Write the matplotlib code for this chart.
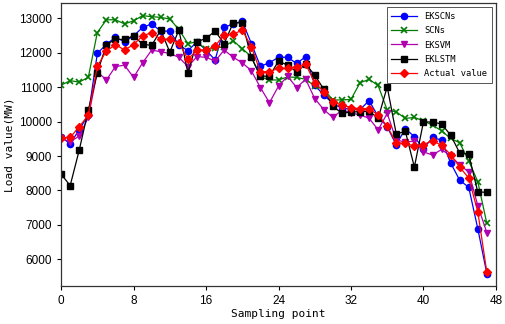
import matplotlib
matplotlib.use("Agg")
import matplotlib.pyplot as plt
import numpy as np

# sampling points 0..47
x = np.arange(48)

ekscns = [9560, 9350, 9770, 10190, 11980, 12250, 12450, 12320, 12490, 12740,
          12840, 12630, 12630, 12230, 12060, 12320, 12080, 11790, 12740, 12840,
          12920, 12270, 11610, 11710, 11870, 11870, 11690, 11890, 11060, 10770,
          10530, 10380, 10380, 10350, 10610, 10150, 9850, 9320, 9800, 9560,
          9210, 9540, 9460, 8800, 8300, 8090, 6890, 5580]
scns = [11060, 11190, 11150, 11285, 12590, 12960, 12960, 12840, 12930, 13080,
        13050, 13030, 12980, 12680, 12270, 12320, 12100, 12130, 12180, 12350,
        12120, 11890, 11300, 11210, 11210, 11300, 11285, 11230, 11030, 10940,
        10630, 10630, 10645, 11130, 11227, 11050, 10334, 10285, 10093, 10122,
        10023, 9898, 9733, 9512, 9384, 8861, 8255, 7040]
eksvm = [9510, 9415, 9580, 10120, 11450, 11210, 11600, 11640, 11285, 11710,
         12080, 12030, 11980, 11870, 11600, 11890, 11870, 11760, 12080, 11870,
         11710, 11480, 10990, 10550, 11030, 11320, 10990, 11230, 10670, 10350,
         10120, 10335, 10260, 10190, 10100, 9760, 10240, 9460, 9410, 9430,
         9120, 9030, 9190, 9000, 8750, 8530, 7560, 6770]
eklstm = [8475, 8140, 9170, 10335, 11420, 12240, 12390, 12390, 12490, 12250,
          12215, 12660, 12020, 12660, 11420, 12320, 12420, 12630, 12270, 12870,
          12870, 11870, 11320, 11320, 11760, 11640, 11450, 11670, 11350, 10940,
          10450, 10240, 10280, 10290, 10300, 10100, 11010, 9640, 9720, 8680,
          9990, 9990, 9930, 9610, 9090, 9050, 7950, 7950]
actual = [9530, 9540, 9850, 10190, 11610, 12050, 12240, 12080, 12240, 12490,
          12590, 12390, 12390, 12290, 11810, 12080, 12080, 12200, 12520, 12540,
          12660, 12180, 11450, 11450, 11550, 11550, 11600, 11670, 11130, 10870,
          10580, 10480, 10410, 10370, 10380, 10190, 9870, 9370, 9370, 9290,
          9330, 9450, 9310, 9040, 8680, 8360, 7380, 5620]

xticks = [0, 8, 16, 24, 32, 40, 48]
yticks = [6000, 7000, 8000, 9000, 10000, 11000, 12000, 13000]

mono = "DejaVu Sans Mono"

fig = plt.figure(figsize=(5.05, 3.24), dpi=100)
ax = fig.add_axes([0.121, 0.117, 0.861, 0.874])

ax.plot(x, ekscns, color="#0000ff", marker="o", ms=4.5, lw=0.9, label="EKSCNs")
ax.plot(x, scns, color="#007a00", marker="x", ms=4, mew=1.2, lw=0.9, label="SCNs")
ax.plot(x, eksvm, color="#b000b0", marker="v", ms=4.5, lw=0.9, label="EKSVM")
ax.plot(x, eklstm, color="#000000", marker="s", ms=4.5, lw=0.9, label="EKLSTM")
ax.plot(x, actual, color="#ff0000", marker="D", ms=4.5, lw=0.9, label="Actual value")

ax.set_xlim(0, 48)
ax.set_ylim(5220, 13450)
ax.set_xticks(xticks)
ax.set_yticks(yticks)
ax.tick_params(labelsize=8.5, length=3, width=0.8, direction="out")
for lab in ax.get_xticklabels() + ax.get_yticklabels():
    lab.set_family("Liberation Sans")
for s in ax.spines.values():
    s.set_color("#333333")
    s.set_linewidth(0.9)

ax.set_xlabel("Sampling point", family=mono, fontsize=8, labelpad=1)
ax.set_ylabel("Load value(MW)", family=mono, fontsize=8, labelpad=3)

leg = ax.legend(loc="upper right", prop={"family": mono, "size": 6.3},
                fancybox=False, edgecolor="#555555", framealpha=1,
                handlelength=3.0, labelspacing=0.62, borderpad=0.5,
                borderaxespad=0.5)
leg.get_frame().set_linewidth(0.7)

fig.savefig("out.png", dpi=100)
